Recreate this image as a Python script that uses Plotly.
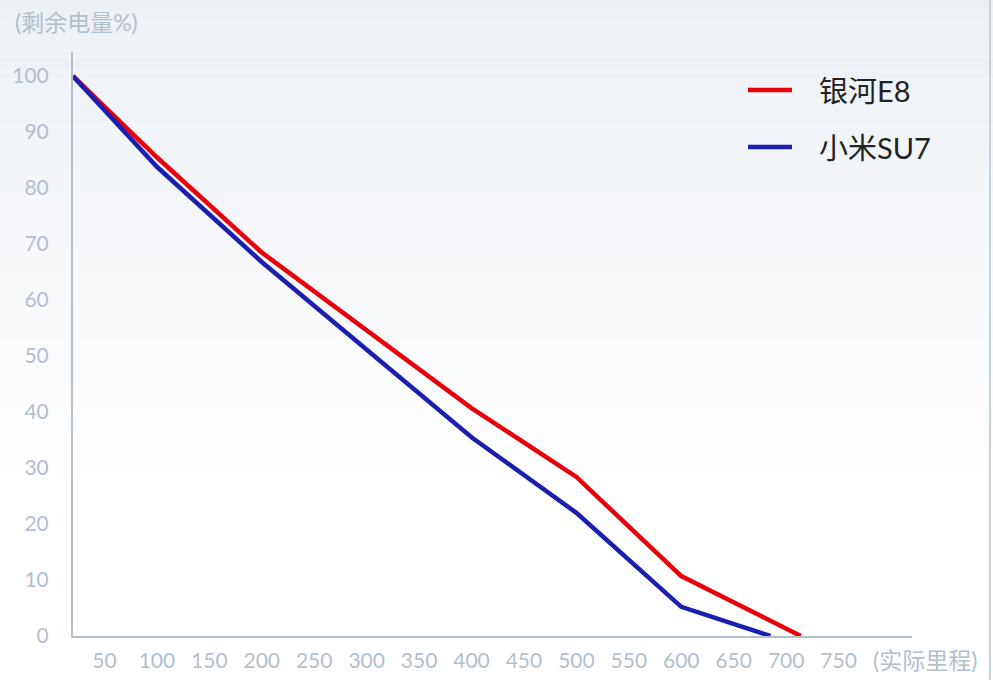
import plotly.graph_objects as go

# Data
e8_km = [20, 100, 200, 400, 500, 600, 714]
e8_pct = [100, 85.5, 68.5, 40.7, 28.4, 10.7, 0]
su7_km = [20, 100, 200, 400, 500, 600, 685]
su7_pct = [100, 83.8, 66.8, 35.5, 22.0, 5.2, 0]
x_ticks = [50, 100, 150, 200, 250, 300, 350, 400, 450, 500, 550, 600, 650, 700, 750]
y_ticks = [0, 10, 20, 30, 40, 50, 60, 70, 80, 90, 100]
names = ["银河E8", "小米SU7"]
colors = ["#e8000b", "#1b1fae"]

W, H = 993, 680
L, R, T, B = 73, 81, 52, 44
pw, ph = W - L - R, H - T - B

def px(xp):
    return (xp - L) / pw

def py(yp):
    return (H - B - yp) / ph

FONT = "Lato, Noto Sans CJK SC, sans-serif"
GRAY = "#b3bfcc"

fig = go.Figure()
for xs, ys, n, c in [(e8_km, e8_pct, names[0], colors[0]), (su7_km, su7_pct, names[1], colors[1])]:
    fig.add_trace(go.Scatter(x=xs, y=ys, mode="lines", name=n,
                             line=dict(color=c, width=4.5), showlegend=False))

shapes = []
# vertical gradient background
n = 60
top = (236, 240, 245)
bot = (255, 255, 255)
for i in range(n):
    y0p = i * H / n
    y1p = (i + 1) * H / n
    t = min(1.0, (i + 0.5) / (n * 0.72))
    col = tuple(round(top[k] + (bot[k] - top[k]) * t) for k in range(3))
    shapes.append(dict(type="rect", xref="paper", yref="paper", layer="below",
                       x0=px(0), x1=px(W), y0=py(y1p), y1=py(y0p),
                       line=dict(width=0), fillcolor="rgb(%d,%d,%d)" % col))
# right border line
shapes.append(dict(type="line", xref="paper", yref="paper", x0=px(990), x1=px(990),
                   y0=py(H), y1=py(0), line=dict(color="#c9d1db", width=2)))
# manual legend
legend_rows = [90, 147]
annotations = []
for yr, n_, c in zip(legend_rows, names, colors):
    shapes.append(dict(type="line", xref="paper", yref="paper", x0=px(748), x1=px(792),
                       y0=py(yr), y1=py(yr), line=dict(color=c, width=4.5)))
    annotations.append(dict(xref="paper", yref="paper", x=px(817), y=py(yr), text=n_,
                            showarrow=False, xanchor="left", yanchor="middle",
                            font=dict(family=FONT, size=29, color="#222222")))
annotations.append(dict(xref="paper", yref="paper", x=px(13), y=py(22), text="(剩余电量%)",
                        showarrow=False, xanchor="left", yanchor="middle",
                        font=dict(family=FONT, size=23, color=GRAY)))
annotations.append(dict(xref="paper", yref="paper", x=px(871), y=py(660), text="(实际里程)",
                        showarrow=False, xanchor="left", yanchor="middle",
                        font=dict(family=FONT, size=23, color=GRAY)))

fig.update_layout(
    width=W, height=H,
    margin=dict(l=L, r=R, t=T, b=B, autoexpand=False),
    paper_bgcolor="#ffffff",
    plot_bgcolor="rgba(0,0,0,0)",
    shapes=shapes,
    annotations=annotations,
    showlegend=False,
    xaxis=dict(range=[20, 820], tickvals=x_ticks, ticktext=[str(v) for v in x_ticks],
               showgrid=False, zeroline=False, showline=True, linecolor="#b6c0cc", linewidth=2,
               ticks="", ticklabelstandoff=5,
               tickfont=dict(family=FONT, size=21, color=GRAY)),
    yaxis=dict(range=[0, 104.3], tickvals=y_ticks, ticktext=[str(v) for v in y_ticks],
               showgrid=False, zeroline=False, showline=True, linecolor="#b6c0cc", linewidth=2,
               ticks="", ticklabelstandoff=18,
               tickfont=dict(family=FONT, size=21, color=GRAY)),
)

fig.write_html("out.html", config={"displayModeBar": False},
               post_script="document.body.style.margin='0';document.body.style.overflow='hidden';")
